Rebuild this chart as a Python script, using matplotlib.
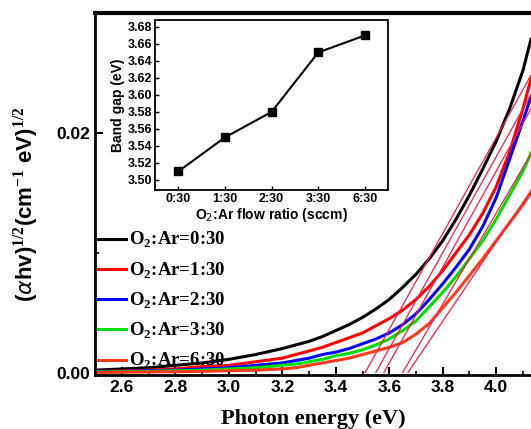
import numpy as np
import matplotlib
matplotlib.use("Agg")
import matplotlib.pyplot as plt
from matplotlib.ticker import MultipleLocator, FormatStrFormatter

# Tauc plot data, (alpha h nu)^(1/2) vs photon energy
energy = [2.5, 2.6, 2.7, 2.8, 2.9, 3.0, 3.1, 3.2, 3.25, 3.3, 3.35, 3.4, 3.45, 3.5, 3.55,
          3.6, 3.65, 3.7, 3.75, 3.8, 3.85, 3.9, 3.95, 4.0, 4.05, 4.1, 4.13]
tauc_0 = [0.0002, 0.0003, 0.0004, 0.0006, 0.0008, 0.0011, 0.0015, 0.0020, 0.0023, 0.0026, 0.0030,
          0.0035, 0.0040, 0.0046, 0.0053, 0.0061, 0.0071, 0.0082, 0.0095, 0.0110, 0.0128, 0.0148,
          0.0170, 0.0193, 0.0220, 0.0252, 0.0278]
tauc_1 = [0.0001, 0.00013, 0.0002, 0.0003, 0.0005, 0.0006, 0.0009, 0.0012, 0.0015, 0.0018, 0.0021,
          0.0025, 0.0029, 0.0033, 0.0039, 0.0045, 0.0052, 0.0061, 0.0072, 0.0085, 0.0100, 0.0115,
          0.0133, 0.0155, 0.0184, 0.0220, 0.0245]
tauc_2 = [0.0001, 0.0001, 0.00015, 0.0002, 0.0003, 0.0004, 0.0006, 0.0008, 0.0010, 0.0012, 0.0015,
          0.0017, 0.0020, 0.0024, 0.0028, 0.0033, 0.0040, 0.0049, 0.0061, 0.0074, 0.0088, 0.0103,
          0.0122, 0.0146, 0.0178, 0.0210, 0.0230]
tauc_3 = [0.00005, 0.00007, 0.0001, 0.00015, 0.0002, 0.0003, 0.0004, 0.0006, 0.0007, 0.0009, 0.0011,
          0.0014, 0.0016, 0.0019, 0.0023, 0.0028, 0.0035, 0.0043, 0.0055, 0.0067, 0.0080, 0.0095,
          0.0110, 0.0128, 0.0148, 0.0168, 0.0183]
tauc_6 = [0.0, 0.00003, 0.00005, 0.00007, 0.0001, 0.00015, 0.0002, 0.0003, 0.0004, 0.0006, 0.0008,
          0.0010, 0.0012, 0.0015, 0.0018, 0.0021, 0.0025, 0.0032, 0.0041, 0.0054, 0.0067, 0.0081,
          0.0095, 0.0110, 0.0125, 0.0140, 0.0150]

labels = ["O$_\\mathbf{2}$:Ar=0:30", "O$_\\mathbf{2}$:Ar=1:30", "O$_\\mathbf{2}$:Ar=2:30",
          "O$_\\mathbf{2}$:Ar=3:30", "O$_\\mathbf{2}$:Ar=6:30"]
colors = ["black", "#ff0000", "#0000ff", "#00dd00", "#ff3a1a"]

# linear fits: x-intercept (band gap) and slope
ratios = ["0:30", "1:30", "2:30", "3:30", "6:30"]
band_gap = [3.51, 3.55, 3.58, 3.65, 3.67]
fit_slope = [0.040, 0.040, 0.040, 0.038, 0.033]

plt.rcParams["mathtext.fontset"] = "custom"
plt.rcParams["mathtext.bf"] = "Liberation Serif:bold"
plt.rcParams["mathtext.rm"] = "Liberation Serif:bold"

fig = plt.figure(figsize=(5.31, 4.29), dpi=100)
ax = fig.add_axes([0.179, 0.126, 0.821, 0.844])

for ys, c, lab in zip([tauc_0, tauc_1, tauc_2, tauc_3, tauc_6], colors, labels):
    ax.plot(energy, ys, color=c, lw=2.2, label=lab)

for eg, k in zip(band_gap, fit_slope):
    xs = np.array([eg, 4.2])
    ax.plot(xs, k * (xs - eg), color="#ff1a4a", lw=0.9)

ax.set_xlim(2.5, 4.13)
ax.set_ylim(-0.0002, 0.03)
ax.xaxis.set_major_locator(MultipleLocator(0.2))
ax.xaxis.set_minor_locator(MultipleLocator(0.1))
ax.yaxis.set_major_locator(MultipleLocator(0.02))
ax.yaxis.set_minor_locator(MultipleLocator(0.01))
ax.xaxis.set_major_formatter(FormatStrFormatter("%.1f"))
ax.yaxis.set_major_formatter(FormatStrFormatter("%.2f"))
ax.tick_params(which="major", direction="in", length=6, width=1.5, labelsize=12.5)
ax.tick_params(which="minor", direction="in", length=3, width=1.2)
for lab in ax.get_xticklabels() + ax.get_yticklabels():
    lab.set_fontfamily("Liberation Sans")
    lab.set_fontweight("bold")

ax.spines["right"].set_visible(False)
ax.spines["top"].set_linewidth(3)
ax.spines["left"].set_linewidth(2)
ax.spines["bottom"].set_linewidth(2)

ax.set_xlabel("Photon energy (eV)", family="Liberation Serif", fontweight="bold", fontsize=16)
ax.set_ylabel("($\\alpha$hv)$^{1/2}$(cm$^{-1}$ eV)$^{1/2}$", family="Liberation Sans",
              fontweight="bold", fontsize=16)
ax.xaxis.set_label_coords(0.5, -0.095)
ax.yaxis.set_label_coords(-0.125, 0.47)

leg = ax.legend(loc="upper left", bbox_to_anchor=(0.007, 0.40), frameon=False,
                borderpad=0, borderaxespad=0,
                handlelength=1.5, handletextpad=0.15, labelspacing=0.53,
                prop={"family": "Liberation Serif", "weight": "bold", "size": 13.5})

# inset: band gap vs flow ratio
ins = fig.add_axes([0.292, 0.557, 0.439, 0.396])
ins.plot(range(len(ratios)), band_gap, color="black", lw=1.5, marker="s", ms=6)
ins.set_xlim(-0.5, 4.5)
ins.set_ylim(3.488, 3.688)
ins.set_xticks(range(len(ratios)))
ins.set_xticklabels(ratios)
ins.yaxis.set_major_locator(MultipleLocator(0.02))
ins.yaxis.set_major_formatter(FormatStrFormatter("%.2f"))
ins.tick_params(direction="in", length=3, width=1, labelsize=9, pad=2)
for lab in ins.get_xticklabels() + ins.get_yticklabels():
    lab.set_fontfamily("Liberation Sans")
    lab.set_fontweight("bold")
for sp in ins.spines.values():
    sp.set_linewidth(1.3)
ins.set_ylabel("Band gap (eV)", family="Liberation Sans", fontweight="bold", fontsize=10, labelpad=2)
ins.set_xlabel("O$_\\mathsf{2}$:Ar flow ratio (sccm)", family="Liberation Sans",
               fontweight="bold", fontsize=10, labelpad=1)

fig.savefig("out.png", dpi=100)
